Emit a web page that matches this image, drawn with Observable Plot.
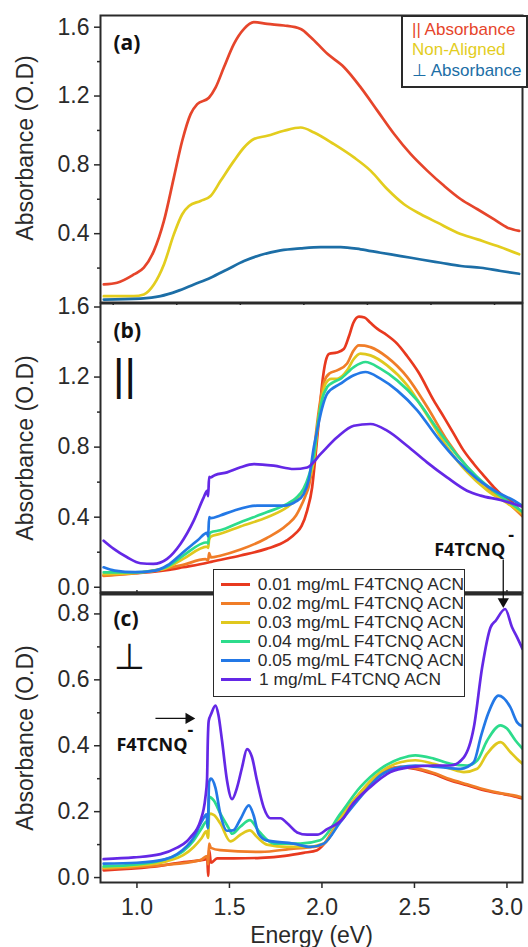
<!DOCTYPE html>
<html>
<head>
<meta charset="utf-8">
<script src="https://cdn.jsdelivr.net/npm/d3@7"></script>
<script src="https://cdn.jsdelivr.net/npm/@observablehq/plot@0.6"></script>
<style>
  html, body { margin: 0; padding: 0; background: #fff; }
  #fig { position: relative; width: 528px; height: 947px; overflow: hidden; background: #fff;
         font-family: "Liberation Sans", Arial, sans-serif; }
  #fig svg { position: absolute; left: 0; overflow: visible; background: transparent; }
  .legend { position: absolute; background: #fff; box-sizing: border-box; }
  .legend .row { display: flex; align-items: center; white-space: nowrap; }
  .legend .swatch { display: inline-block; height: 3px; }
</style>
</head>
<body>
<div id="fig"></div>
<script>
// ---- tick values -------------------------------------------------------
const energyTicks = [1.0, 1.5, 2.0, 2.5, 3.0];
const energyTicksA = [0.5, 1.0, 1.5, 2.0, 2.5, 3.0, 3.5];
const yTicksA = [0.4, 0.8, 1.2, 1.6];
const yMinorA = [0.2, 0.6, 1.0, 1.4];
const yTicksB = [0.0, 0.4, 0.8, 1.2, 1.6];
const yMinorB = [0.2, 0.6, 1.0, 1.4];
const yTicksC = [0.0, 0.2, 0.4, 0.6, 0.8];
const yMinorC = [0.1, 0.3, 0.5, 0.7];

// ---- series names and colours -----------------------------------------
const alignLabels = ["|| Absorbance", "Non-Aligned", "\u22A5 Absorbance"];
const alignColors = ["#e6452b", "#e3cd1e", "#1c6ea6"];
const concLabels = [
  "0.01 mg/mL F4TCNQ ACN", "0.02 mg/mL F4TCNQ ACN", "0.03 mg/mL F4TCNQ ACN",
  "0.04 mg/mL F4TCNQ ACN", "0.05 mg/mL F4TCNQ ACN", "1 mg/mL F4TCNQ ACN"
];
const concColors = ["#e8391f", "#f07d28", "#e0c81e", "#2ddc8c", "#2378e6", "#6428e6"];

// ---- (a) polarised absorbance: [energy, absorbance] --------------------
const aParallel = [[0.426,0.105],[0.531,0.115],[0.662,0.163],[0.741,0.202],[0.82,0.30],[0.899,0.474],[0.977,0.726],[1.043,0.94],[1.109,1.095],[1.161,1.153],[1.253,1.19],[1.306,1.25],[1.371,1.367],[1.45,1.503],[1.529,1.59],[1.607,1.629],[1.712,1.619],[1.843,1.61],[1.975,1.59],[2.054,1.542],[2.185,1.445],[2.316,1.367],[2.447,1.25],[2.578,1.115],[2.71,0.979],[2.841,0.862],[2.972,0.765],[3.103,0.678],[3.235,0.60],[3.366,0.542],[3.497,0.483],[3.602,0.435],[3.694,0.416]];
const aNonAligned = [[0.426,0.037],[0.662,0.037],[0.741,0.047],[0.82,0.105],[0.899,0.221],[0.977,0.396],[1.043,0.513],[1.096,0.561],[1.187,0.59],[1.266,0.619],[1.345,0.707],[1.45,0.823],[1.529,0.901],[1.607,0.95],[1.712,0.969],[1.843,0.998],[1.975,1.017],[2.08,0.988],[2.237,0.92],[2.394,0.843],[2.526,0.765],[2.657,0.658],[2.788,0.571],[2.92,0.513],[3.051,0.464],[3.208,0.406],[3.366,0.367],[3.523,0.328],[3.694,0.28]];
const aPerpendicular = [[0.426,0.017],[0.715,0.023],[0.872,0.037],[1.004,0.066],[1.135,0.105],[1.266,0.144],[1.397,0.192],[1.529,0.241],[1.66,0.276],[1.817,0.303],[1.975,0.315],[2.132,0.322],[2.29,0.322],[2.447,0.309],[2.604,0.289],[2.762,0.27],[2.92,0.25],[3.077,0.231],[3.235,0.212],[3.392,0.202],[3.549,0.183],[3.694,0.167]];

// ---- (b) parallel absorbance vs dopant concentration -------------------
const bC001 = [[0.82,0.067],[0.99,0.08],[1.07,0.086],[1.16,0.097],[1.25,0.114],[1.38,0.14],[1.40,0.145],[1.56,0.181],[1.70,0.219],[1.81,0.267],[1.86,0.31],[1.89,0.35],[1.92,0.438],[1.947,0.571],[1.965,0.75],[1.983,0.95],[2.00,1.15],[2.02,1.29],[2.04,1.333],[2.08,1.34],[2.118,1.36],[2.145,1.43],[2.17,1.51],[2.20,1.545],[2.23,1.54],[2.262,1.51],[2.30,1.475],[2.35,1.44],[2.406,1.391],[2.46,1.32],[2.52,1.23],[2.604,1.067],[2.66,0.97],[2.712,0.877],[2.76,0.79],[2.82,0.705],[2.88,0.63],[2.929,0.571],[2.98,0.52],[3.037,0.477],[3.084,0.415]];
const bC002 = [[0.82,0.065],[0.99,0.08],[1.07,0.092],[1.25,0.128],[1.37,0.16],[1.385,0.155],[1.39,0.195],[1.40,0.17],[1.45,0.18],[1.56,0.215],[1.70,0.28],[1.81,0.355],[1.86,0.41],[1.884,0.457],[1.91,0.52],[1.93,0.58],[1.95,0.70],[1.97,0.90],[1.99,1.06],[2.01,1.17],[2.04,1.22],[2.082,1.238],[2.136,1.277],[2.17,1.35],[2.199,1.381],[2.23,1.38],[2.262,1.371],[2.352,1.314],[2.461,1.20],[2.569,1.029],[2.677,0.838],[2.785,0.686],[2.893,0.571],[3.001,0.486],[3.084,0.405]];
const bC003 = [[0.82,0.075],[0.99,0.082],[1.07,0.09],[1.16,0.11],[1.25,0.162],[1.38,0.232],[1.385,0.225],[1.39,0.27],[1.40,0.29],[1.45,0.305],[1.559,0.347],[1.704,0.40],[1.812,0.457],[1.86,0.50],[1.90,0.553],[1.93,0.62],[1.956,0.72],[1.98,0.95],[2.00,1.08],[2.019,1.162],[2.05,1.19],[2.082,1.19],[2.136,1.238],[2.17,1.30],[2.208,1.334],[2.262,1.324],[2.352,1.267],[2.461,1.153],[2.569,0.981],[2.677,0.80],[2.785,0.657],[2.893,0.553],[3.001,0.48],[3.084,0.42]];
const bC004 = [[0.82,0.085],[0.99,0.085],[1.07,0.092],[1.16,0.115],[1.25,0.181],[1.38,0.257],[1.385,0.25],[1.39,0.30],[1.40,0.314],[1.45,0.325],[1.559,0.371],[1.704,0.429],[1.812,0.476],[1.86,0.51],[1.90,0.562],[1.93,0.64],[1.956,0.75],[1.98,0.95],[2.00,1.07],[2.028,1.143],[2.06,1.17],[2.10,1.19],[2.172,1.257],[2.235,1.286],[2.316,1.248],[2.406,1.181],[2.515,1.067],[2.623,0.905],[2.731,0.753],[2.839,0.629],[2.947,0.534],[3.037,0.467],[3.084,0.43]];
const bC005 = [[0.82,0.114],[0.88,0.095],[0.99,0.086],[1.10,0.095],[1.163,0.124],[1.25,0.20],[1.33,0.27],[1.379,0.31],[1.385,0.29],[1.39,0.40],[1.40,0.395],[1.45,0.41],[1.523,0.437],[1.649,0.466],[1.793,0.466],[1.86,0.49],[1.90,0.53],[1.93,0.62],[1.956,0.80],[1.974,0.895],[2.00,1.02],[2.028,1.105],[2.10,1.162],[2.172,1.21],[2.235,1.229],[2.316,1.191],[2.406,1.124],[2.515,1.01],[2.623,0.857],[2.731,0.724],[2.839,0.619],[2.947,0.543],[3.037,0.495],[3.084,0.465]];
const bC1 = [[0.82,0.266],[0.875,0.219],[0.947,0.171],[1.019,0.137],[1.089,0.133],[1.163,0.162],[1.235,0.247],[1.307,0.38],[1.361,0.513],[1.379,0.55],[1.385,0.52],[1.39,0.63],[1.397,0.627],[1.42,0.64],[1.487,0.656],[1.56,0.685],[1.632,0.703],[1.739,0.694],[1.848,0.675],[1.92,0.684],[1.992,0.76],[2.082,0.856],[2.172,0.922],[2.262,0.932],[2.352,0.894],[2.46,0.808],[2.568,0.713],[2.676,0.627],[2.784,0.551],[2.857,0.523],[2.965,0.498],[3.084,0.46]];

// ---- (c) perpendicular absorbance vs dopant concentration --------------
const cC001 = [[0.82,0.022],[1.073,0.032],[1.253,0.047],[1.37,0.055],[1.38,0.06],[1.385,0.005],[1.39,0.085],[1.40,0.045],[1.433,0.058],[1.523,0.058],[1.67,0.06],[1.80,0.066],[1.90,0.075],[1.974,0.083],[2.00,0.095],[2.05,0.13],[2.10,0.179],[2.208,0.255],[2.316,0.315],[2.424,0.335],[2.505,0.33],[2.60,0.315],[2.695,0.295],[2.785,0.28],[2.875,0.265],[2.965,0.255],[3.03,0.248],[3.084,0.24]];
const cC002 = [[0.82,0.027],[1.127,0.037],[1.343,0.053],[1.38,0.065],[1.385,0.04],[1.39,0.103],[1.40,0.09],[1.45,0.083],[1.67,0.078],[1.847,0.088],[1.95,0.093],[2.00,0.098],[2.05,0.135],[2.10,0.182],[2.208,0.258],[2.316,0.318],[2.424,0.336],[2.505,0.332],[2.60,0.318],[2.695,0.298],[2.785,0.283],[2.875,0.268],[2.965,0.256],[3.03,0.25],[3.084,0.243]];
const cC003 = [[0.82,0.03],[1.00,0.036],[1.163,0.05],[1.25,0.068],[1.307,0.093],[1.35,0.12],[1.375,0.14],[1.385,0.12],[1.39,0.194],[1.415,0.19],[1.451,0.164],[1.505,0.11],[1.559,0.13],[1.61,0.143],[1.649,0.123],[1.703,0.10],[1.811,0.093],[1.919,0.093],[2.01,0.103],[2.10,0.179],[2.208,0.259],[2.316,0.32],[2.424,0.35],[2.505,0.356],[2.604,0.345],[2.695,0.33],[2.767,0.32],[2.839,0.33],[2.893,0.376],[2.965,0.411],[3.018,0.381],[3.055,0.36],[3.084,0.345]];
const cC004 = [[0.82,0.034],[1.00,0.04],[1.163,0.057],[1.25,0.08],[1.307,0.113],[1.35,0.15],[1.375,0.17],[1.385,0.15],[1.39,0.245],[1.415,0.234],[1.451,0.194],[1.496,0.15],[1.514,0.133],[1.56,0.155],[1.61,0.174],[1.66,0.14],[1.74,0.103],[1.883,0.103],[1.99,0.113],[2.10,0.194],[2.208,0.275],[2.316,0.33],[2.424,0.361],[2.505,0.371],[2.604,0.361],[2.695,0.345],[2.785,0.34],[2.839,0.355],[2.893,0.416],[2.965,0.462],[3.00,0.452],[3.046,0.416],[3.084,0.391]];
const cC005 = [[0.82,0.042],[1.00,0.045],[1.15,0.055],[1.217,0.071],[1.307,0.122],[1.352,0.172],[1.376,0.192],[1.383,0.15],[1.39,0.29],[1.40,0.30],[1.424,0.273],[1.451,0.192],[1.487,0.142],[1.52,0.143],[1.559,0.177],[1.605,0.219],[1.63,0.19],[1.658,0.132],[1.70,0.113],[1.847,0.103],[1.938,0.093],[2.01,0.103],[2.10,0.169],[2.208,0.244],[2.316,0.31],[2.424,0.335],[2.505,0.34],[2.64,0.335],[2.749,0.33],[2.82,0.35],[2.86,0.43],[2.90,0.50],[2.955,0.552],[3.018,0.517],[3.055,0.471],[3.084,0.459]];
const cC1 = [[0.82,0.056],[0.983,0.061],[1.127,0.071],[1.217,0.091],[1.27,0.11],[1.289,0.122],[1.343,0.172],[1.37,0.243],[1.379,0.30],[1.383,0.415],[1.388,0.476],[1.401,0.496],[1.424,0.522],[1.44,0.495],[1.46,0.415],[1.487,0.294],[1.514,0.238],[1.541,0.273],[1.568,0.334],[1.595,0.39],[1.622,0.365],[1.649,0.294],[1.685,0.213],[1.721,0.18],[1.776,0.18],[1.812,0.165],[1.866,0.137],[1.92,0.13],[1.974,0.13],[2.028,0.147],[2.118,0.182],[2.154,0.214],[2.262,0.275],[2.37,0.32],[2.478,0.335],[2.604,0.34],[2.695,0.34],[2.767,0.365],[2.821,0.456],[2.866,0.638],[2.911,0.759],[2.94,0.78],[2.99,0.815],[3.028,0.759],[3.055,0.729],[3.084,0.694]];

// ---- annotations --------------------------------------------------------
const anionLabel = "F4TCNQ";
const anionArrowC = {x1: 2.98, y1: 0.965, x2: 2.98, y2: 0.838};   // into the 3.0 eV band
const anionArrowLow = {x1: 1.10, y1: 0.483, x2: 1.28, y2: 0.483}; // at the 1.4 eV band

// ---- helpers ------------------------------------------------------------
const toRows = (pairs, series) => pairs.map(([energy, abs]) => ({energy, abs, series}));
const fig = document.getElementById("fig");
const ink = "#2a2a2a";
const sans = "Liberation Sans, Arial, sans-serif";
const bold = "Open Sans, DejaVu Sans, sans-serif";

function place(svg, top) {
  svg.style.top = top + "px";
  fig.append(svg);
}

function yAxes(major, minor, labelDy) {
  return [
    Plot.axisY({ticks: minor, tickSize: 3, tickFormat: () => "", label: null, stroke: ink, strokeWidth: 1.5}),
    Plot.axisY({ticks: major, tickSize: 6, tickPadding: 5, tickFormat: d3.format(".1f"), label: null,
                fontSize: 23, fontFamily: sans, fill: ink, stroke: ink, strokeWidth: 1.5}),
    Plot.text(["Absorbance (O.D)"], {text: d => d, frameAnchor: "left", dx: -75, dy: labelDy, rotate: -90,
                textAnchor: "middle", lineAnchor: "middle", fontSize: 23, fontFamily: sans, fill: ink})
  ];
}

function panelTag(tag, dy) {
  return Plot.text([tag], {text: d => d, frameAnchor: "top-left", dx: 13, dy, textAnchor: "start",
                           lineAnchor: "middle", fontSize: 21, fontWeight: "bold", fontFamily: bold, fill: "#111"});
}

const baseStyle = {background: "transparent", overflow: "visible", fontFamily: sans};

// ---- panel (a) ----------------------------------------------------------
const dataA = [
  ...toRows(aParallel, alignLabels[0]),
  ...toRows(aNonAligned, alignLabels[1]),
  ...toRows(aPerpendicular, alignLabels[2])
];
place(Plot.plot({
  width: 528, height: 305, marginLeft: 100, marginRight: 6, marginTop: 15, marginBottom: 3,
  style: baseStyle,
  x: {domain: [0.4, 3.72]},
  y: {domain: [0, 1.668]},
  color: {domain: alignLabels, range: alignColors},
  marks: [
    Plot.line(dataA, {x: "energy", y: "abs", z: "series", stroke: "series", strokeWidth: 2.7, curve: "monotone-x", clip: true}),
    Plot.axisX({ticks: energyTicksA, tickSize: 3, tickFormat: () => "", label: null, stroke: ink, strokeWidth: 1.5}),
    ...yAxes(yTicksA, yMinorA, -11),
    Plot.frame({stroke: ink, strokeWidth: 2}),
    panelTag("(a)", 28)
  ]
}), 0);

// ---- panel (b) ----------------------------------------------------------
const seriesB = [bC001, bC002, bC003, bC004, bC005, bC1];
const dataB = seriesB.flatMap((s, i) => toRows(s, concLabels[i]));
place(Plot.plot({
  width: 528, height: 310, marginLeft: 100, marginRight: 6, marginTop: 13, marginBottom: 8,
  style: baseStyle,
  x: {domain: [0.803, 3.084]},
  y: {domain: [-0.03, 1.62]},
  color: {domain: concLabels, range: concColors},
  marks: [
    Plot.line(dataB, {x: "energy", y: "abs", z: "series", stroke: "series", strokeWidth: 2.7, curve: "monotone-x", clip: true}),
    Plot.axisX({ticks: energyTicks, tickSize: 0, tickFormat: () => "", label: null}),
    ...yAxes(yTicksB, yMinorB, 0),
    Plot.frame({stroke: ink, strokeWidth: 2}),
    panelTag("(b)", 28),
    Plot.text(["||"], {text: d => d, frameAnchor: "top-left", dx: 24, dy: 72, textAnchor: "middle",
                       lineAnchor: "middle", fontSize: 44, fontFamily: sans, fill: "#111"})
  ]
}), 290);

// ---- panel (c) ----------------------------------------------------------
const seriesC = [cC001, cC002, cC003, cC004, cC005, cC1];
const dataC = seriesC.flatMap((s, i) => toRows(s, concLabels[i]));
const yDomainC = [-0.015, 0.862];
place(Plot.plot({
  width: 528, height: 367, marginLeft: 100, marginRight: 6, marginTop: 13, marginBottom: 65,
  style: baseStyle,
  x: {domain: [0.803, 3.084]},
  y: {domain: yDomainC},
  color: {domain: concLabels, range: concColors},
  marks: [
    Plot.line(dataC, {x: "energy", y: "abs", z: "series", stroke: "series", strokeWidth: 2.7, curve: "monotone-x", clip: true}),
    Plot.axisX({ticks: energyTicks, anchor: "bottom", tickSize: 6, tickPadding: 10, tickFormat: d3.format(".1f"), label: null,
                fontSize: 23, fontFamily: sans, fill: ink, stroke: ink, strokeWidth: 1.5}),
    Plot.axisX({ticks: energyTicks, anchor: "top", tickSize: 4, tickFormat: () => "", label: null, stroke: ink, strokeWidth: 1.5}),
    Plot.text(["Energy (eV)"], {text: d => d, frameAnchor: "bottom", dy: 53, textAnchor: "middle",
                                lineAnchor: "middle", fontSize: 23, fontFamily: sans, fill: ink}),
    ...yAxes(yTicksC, yMinorC, 0),
    Plot.frame({stroke: ink, strokeWidth: 2}),
    Plot.ruleY([yDomainC[1]], {stroke: ink, strokeWidth: 4}),
    panelTag("(c)", 26),
    Plot.text(["\u22A5"], {text: d => d, frameAnchor: "top-left", dx: 29, dy: 64, textAnchor: "middle",
                           lineAnchor: "middle", fontSize: 36, fontFamily: "DejaVu Sans, sans-serif", fill: "#111"}),
    // anion band markers
    Plot.link([anionArrowC], {x1: "x1", y1: "y1", x2: "x2", y2: "y2", stroke: "#111", strokeWidth: 1.3}),
    Plot.dot([anionArrowC], {x: "x2", y: "y2", symbol: "triangle", r: 4.2, fill: "#111", rotate: 180}),
    Plot.text([anionArrowC], {x: "x1", y: "y1", text: () => anionLabel, dx: 2, dy: -9, textAnchor: "end",
                              lineAnchor: "middle", fontSize: 18, fontWeight: "bold", fontFamily: bold, fill: "#111"}),
    Plot.text([anionArrowC], {x: "x1", y: "y1", text: () => "-", dx: 8, dy: -24, textAnchor: "middle",
                              lineAnchor: "middle", fontSize: 18, fontWeight: "bold", fontFamily: bold, fill: "#111"}),
    Plot.link([anionArrowLow], {x1: "x1", y1: "y1", x2: "x2", y2: "y2", stroke: "#111", strokeWidth: 1.3}),
    Plot.dot([anionArrowLow], {x: "x2", y: "y2", symbol: "triangle", r: 4.2, fill: "#111", rotate: 90}),
    Plot.text([anionArrowLow], {x: "x1", y: "y1", text: () => anionLabel, dx: -39, dy: 27, textAnchor: "start",
                                lineAnchor: "middle", fontSize: 18, fontWeight: "bold", fontFamily: bold, fill: "#111"}),
    Plot.text([anionArrowLow], {x: "x1", y: "y1", text: () => "-", dx: 35, dy: 12, textAnchor: "middle",
                                lineAnchor: "middle", fontSize: 18, fontWeight: "bold", fontFamily: bold, fill: "#111"})
  ]
}), 580);

// ---- legends ------------------------------------------------------------
const legA = document.createElement("div");
legA.className = "legend";
Object.assign(legA.style, {left: "401px", top: "15px", width: "127px", height: "73px",
  border: `2px solid ${ink}`, padding: "3px 0 0 9px", fontSize: "17px"});
alignLabels.forEach((name, i) => {
  const row = document.createElement("div");
  row.className = "row";
  row.style.height = "20px";
  row.style.color = alignColors[i];
  row.textContent = name;
  legA.append(row);
});
fig.append(legA);

const legC = document.createElement("div");
legC.className = "legend";
Object.assign(legC.style, {left: "213px", top: "569px", width: "252px", height: "128px",
  border: `1.5px solid ${ink}`, padding: "5px 0 0 7px", fontSize: "17.4px", color: ink});
concLabels.forEach((name, i) => {
  const row = document.createElement("div");
  row.className = "row";
  row.style.height = "19px";
  const sw = document.createElement("span");
  sw.className = "swatch";
  Object.assign(sw.style, {width: "30px", background: concColors[i], marginRight: "8px"});
  const label = document.createElement("span");
  label.textContent = name;
  row.append(sw, label);
  legC.append(row);
});
fig.append(legC);
</script>
</body>
</html>
